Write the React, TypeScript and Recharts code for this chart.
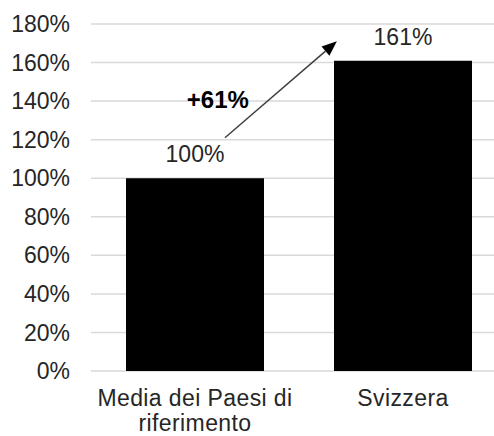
import {
  BarChart,
  Bar,
  XAxis,
  YAxis,
  CartesianGrid,
  LabelList,
  ReferenceLine,
  ReferenceDot,
} from 'recharts';

const categories = ['Media dei Paesi di\nriferimento', 'Svizzera'];
const values = [100, 161];
const yTicks = [0, 20, 40, 60, 80, 100, 120, 140, 160, 180];

// arrow annotation, in data space (x as a fraction of the plot width, y in %)
const arrowFrom = { x: 0.322, y: 121 };
const arrowTo = { x: 0.591, y: 171 };
const deltaLabel = '+61%';
const deltaAt = { x: 0.305, y: 141 };

const data = categories.map((name, i) => ({ name, value: values[i] }));

const FONT = '"Liberation Sans", Arial, sans-serif';
const TEXT = '#262626';

const CategoryTick = (props: any) => {
  const { x, y, payload } = props;
  const lines = String(payload.value).split('\n');
  return (
    <text
      x={x}
      y={y}
      textAnchor="middle"
      fill={TEXT}
      fontSize={23}
      letterSpacing={0.4}
      fontFamily={FONT}
    >
      {lines.map((l, i) => (
        <tspan key={i} x={x} dy={i === 0 ? 35 : 25}>
          {l}
        </tspan>
      ))}
    </text>
  );
};

const Arrow = (props: any) => {
  const { x1, y1, x2, y2 } = props;
  if ([x1, y1, x2, y2].some(v => v == null || isNaN(v))) return null;
  const dx = x2 - x1;
  const dy = y2 - y1;
  const len = Math.sqrt(dx * dx + dy * dy);
  const ux = dx / len;
  const uy = dy / len;
  const head = 15;
  const half = 6;
  const bx = x2 - ux * head;
  const by = y2 - uy * head;
  return (
    <g>
      <line x1={x1} y1={y1} x2={bx} y2={by} stroke="#404040" strokeWidth={1.5} />
      <polygon
        points={`${x2},${y2} ${bx - uy * half},${by + ux * half} ${bx + uy * half},${by - ux * half}`}
        fill="#000"
      />
    </g>
  );
};

export default function App() {
  return (
    <div
      style={{
        position: 'fixed',
        left: 0,
        top: 0,
        width: 494,
        height: 436,
        overflow: 'hidden',
        background: '#fff',
      }}
    >
      <BarChart
        width={510}
        height={436}
        data={data}
        margin={{ top: 24, right: 3, bottom: 0, left: 0 }}
        barCategoryGap={35}
      >
        <CartesianGrid vertical={false} stroke="#d9d9d9" strokeWidth={1.5} />
        <XAxis
          dataKey="name"
          height={65}
          axisLine={false}
          tickLine={false}
          tickSize={0}
          tickMargin={0}
          interval={0}
          tick={<CategoryTick />}
        />
        <XAxis xAxisId="ann" type="number" domain={[0, 1]} allowDataOverflow hide />
        <YAxis
          width={91}
          domain={[0, 180]}
          ticks={yTicks}
          interval={0}
          axisLine={false}
          tickLine={false}
          tickSize={0}
          tickMargin={21}
          tickFormatter={(v: number) => `${v}%`}
          tick={{ fill: TEXT, fontSize: 23, fontFamily: FONT }}
        />
        <Bar dataKey="value" fill="#000" isAnimationActive={false}>
          <LabelList
            dataKey="value"
            position="top"
            offset={16}
            formatter={(v: any) => `${v}%`}
            fill={TEXT}
            fontSize={23}
            fontFamily={FONT}
          />
        </Bar>
        <ReferenceLine
          xAxisId="ann"
          segment={[arrowFrom, arrowTo]}
          ifOverflow="visible"
          shape={<Arrow />}
        />
        <ReferenceDot
          xAxisId="ann"
          x={deltaAt.x}
          y={deltaAt.y}
          r={0}
          fill="none"
          stroke="none"
          ifOverflow="visible"
          label={{
            value: deltaLabel,
            position: 'center',
            fill: '#000',
            fontSize: 24,
            fontWeight: 'bold',
            fontFamily: FONT,
          }}
        />
      </BarChart>
    </div>
  );
}
